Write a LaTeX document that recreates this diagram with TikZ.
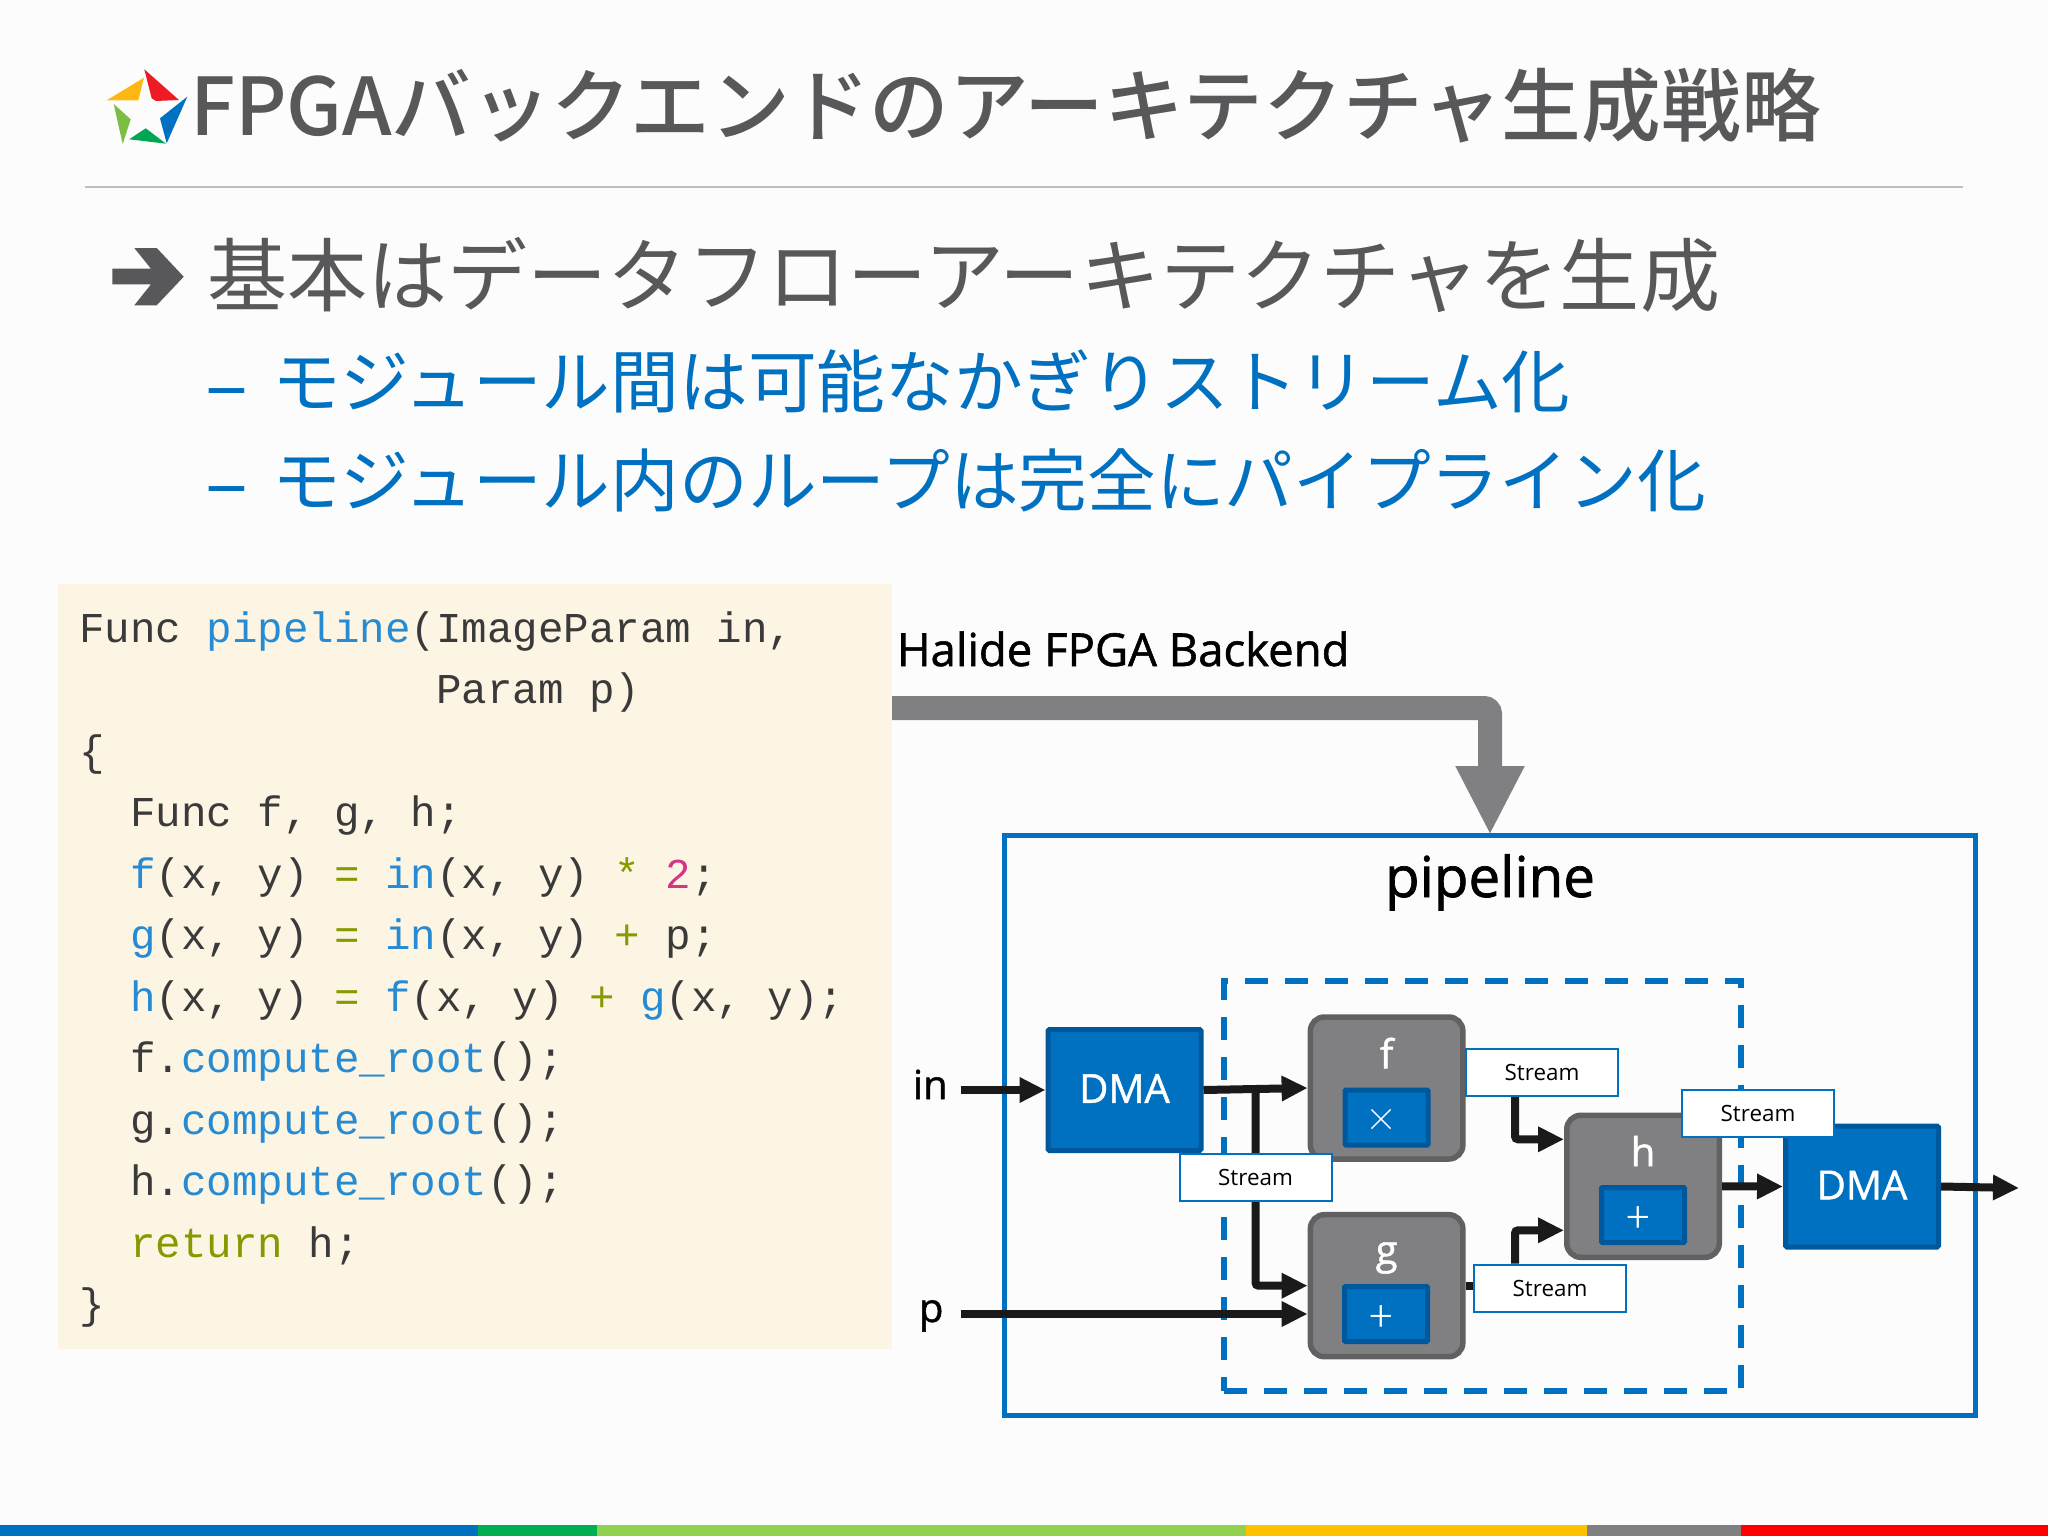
\documentclass[tikz,border=0pt]{standalone}
\usepackage{fontspec}
\usetikzlibrary{arrows.meta}
\setmainfont{Open Sans}
\newfontfamily\labfont[FakeBold=1.2]{Open Sans}
\newfontfamily\cjk{Noto Sans CJK JP}
\newfontfamily\cjkmed{Noto Sans CJK JP Medium}
\newfontfamily\cjklight{Noto Sans CJK JP Light}
\newfontfamily\codefont{Liberation Mono}
\definecolor{slideblue}{HTML}{0070C0}
\definecolor{slidedark}{HTML}{00589C}
\definecolor{slidetext}{HTML}{58585A}
\definecolor{boxgrey}{HTML}{808083}
\definecolor{boxedge}{HTML}{616164}
\definecolor{arrowblack}{HTML}{1A1A1A}
\definecolor{codebg}{HTML}{FDF5E4}
\definecolor{codetext}{HTML}{3A3A3A}
\definecolor{codeblue}{HTML}{268BD2}
\definecolor{codegreen}{HTML}{859900}
\definecolor{codemag}{HTML}{D33682}
\definecolor{barA}{HTML}{00B050}
\definecolor{barB}{HTML}{92D050}
\definecolor{barC}{HTML}{FFC000}
\definecolor{barD}{HTML}{808080}
\definecolor{barE}{HTML}{FF0000}
\definecolor{logoR}{HTML}{ED1C24}
\definecolor{logoY}{HTML}{FFB812}
\definecolor{logoL}{HTML}{7CBE42}
\definecolor{logoG}{HTML}{00A651}
\newcommand\cfn[1]{\textcolor{codeblue}{#1}}
\newcommand\ckw[1]{\textcolor{codegreen}{#1}}
\newcommand\cnum[1]{\textcolor{codemag}{#1}}
\pgfdeclarelayer{top}
\pgfsetlayers{main,top}
\tikzset{
  x=1bp,y=-1bp,
  txt/.style={inner sep=0pt,outer sep=0pt,anchor=base west},
  headline/.style={txt,text=slidetext,font=\cjkmed\fontsize{79.7bp}{90bp}\selectfont},
  title/.style={txt,text=slidetext,font=\cjk\fontsize{80.1bp}{90bp}\selectfont},
  sub/.style={txt,text=slideblue,font=\cjk\fontsize{68.7bp}{80bp}\selectfont},
  subdash/.style={txt,text=slideblue,font=\cjk\fontsize{80bp}{80bp}\selectfont},
  code/.style={txt,text=codetext,font=\codefont\fontsize{42.5bp}{50bp}\selectfont},
  lab/.style={inner sep=0pt,outer sep=0pt,text=black,font=\labfont\fontsize{#1bp}{#1bp}\selectfont},
  lab/.default=40,
  white lab/.style={text=white,font=\labfont\fontsize{40bp}{44bp}\selectfont},
  op/.style={inner sep=0pt,outer sep=0pt,text=white,font=\cjklight\fontsize{#1bp}{#1bp}\selectfont},
  op/.default=44,
  dma/.style={draw=slidedark,fill=slideblue,line width=5bp,rounded corners=1.5bp,minimum width=153bp,minimum height=121bp,inner sep=0pt},
  func/.style={draw=boxedge,fill=boxgrey,line width=5.5bp,rounded corners=14bp,minimum width=152.5bp,minimum height=142bp,inner sep=0pt},
  unit/.style={draw=slidedark,fill=slideblue,line width=5bp,rounded corners=1bp,minimum width=83bp,minimum height=55bp,inner sep=0pt},
  stream/.style={draw=slideblue,fill=white,line width=2bp,minimum width=152bp,minimum height=47bp,inner sep=0pt,text=black,font=\fontsize{22.4bp}{26bp}\selectfont},
  conn/.style={draw=arrowblack,line width=8bp,rounded corners=3bp,-{Triangle[length=26bp,width=24bp]}},
  stub/.style={draw=arrowblack,line width=8bp},
  feed/.style={draw=boxgrey,line width=24bp,rounded corners=6bp,-{Triangle[length=69bp,width=64bp]}},
}
\begin{document}
\begin{tikzpicture}
\fill[white!99!black] (0,0) rectangle (2048,1536);
\useasboundingbox (0,0) rectangle (2048,1536);
% bottom bar
\fill[slideblue] (0,1525) rectangle (478,1536);
\fill[barA] (478,1525) rectangle (597,1536);
\fill[barB] (597,1525) rectangle (1246,1536);
\fill[barC] (1246,1525) rectangle (1587,1536);
\fill[barD] (1587,1525) rectangle (1741,1536);
\fill[barE] (1741,1525) rectangle (2048,1536);
% logo
\fill[logoR] (144.3,69.3) -- (179,100) -- (156,101) -- (151.7,98.3) -- cycle;
\fill[logoY] (106.7,100.3) -- (144,77.7) -- (138.3,100.3) -- cycle;
\fill[logoL] (113.7,104) -- (130.7,119.3) -- (122.7,144) -- cycle;
\fill[logoG] (129.3,139.3) -- (145.7,128.3) -- (166,143.7) -- cycle;
\fill[slideblue] (187.3,96.7) -- (166.7,143.3) -- (160,118.3) -- cycle;
% title
\node[headline] (titletext) at (190,136) {FPGAバックエンドのアーキテクチャ生成戦略};
\draw[draw=black!25,line width=2bp] (85,187) -- (1963,187);
% bullet arrow
\fill[slidetext] (112.3,268.7) -- (151,268.7) -- (134.3,248) -- (156.7,248) -- (183.7,276.7) -- (156.7,305.3) -- (134.3,305.3) -- (151,284.3) -- (112.3,284.3) -- cycle;
\node[title] (body) at (207,305.5) {基本はデータフローアーキテクチャを生成};
\node[subdash] (dashone) at (205,413) {–};
\node[sub] (subone) at (272,407.5) {モジュール間は可能なかぎりストリーム化};
\node[subdash] (dashtwo) at (205,511) {–};
\node[sub] (subtwo) at (272,506.5) {モジュール内のループは完全にパイプライン化};
% code
\node[fill=codebg,inner sep=0pt,outer sep=0pt,minimum width=834bp,minimum height=765bp] (codebox) at (475,966.5) {};
\node[code] (c1) at (79,642) {Func \cfn{pipeline}(ImageParam in,};
\node[code] (c2) at (79,703.5) {\hspace*{357.1bp}Param p)};
\node[code] (c3) at (79,765) {\{};
\node[code] (c4) at (79,826.5) {\hspace*{51bp}Func f, g, h;};
\node[code] (c5) at (79,888) {\hspace*{51bp}\cfn{f}(x, y) \ckw{=} \cfn{in}(x, y) \ckw{*} \cnum{2};};
\node[code] (c6) at (79,949.5) {\hspace*{51bp}\cfn{g}(x, y) \ckw{=} \cfn{in}(x, y) \ckw{+} p;};
\node[code] (c7) at (79,1011) {\hspace*{51bp}\cfn{h}(x, y) \ckw{=} \cfn{f}(x, y) \ckw{+} \cfn{g}(x, y);};
\node[code] (c8) at (79,1072.5) {\hspace*{51bp}f.\cfn{compute\_root}();};
\node[code] (c9) at (79,1134) {\hspace*{51bp}g.\cfn{compute\_root}();};
\node[code] (c10) at (79,1195.5) {\hspace*{51bp}h.\cfn{compute\_root}();};
\node[code] (c11) at (79,1257) {\hspace*{51bp}\ckw{return} h;};
\node[code] (c12) at (79,1318.5) {\}};
% pipeline frame
\node[draw=slideblue,line width=5bp,inner sep=0pt,outer sep=0pt,minimum width=971bp,minimum height=580bp] (frame) at (1490,1125) {};
\node[draw=slideblue,line width=6bp,dash pattern=on 23bp off 17bp,inner sep=0pt,outer sep=0pt,minimum width=517bp,minimum height=410bp] (region) at (1482.5,1186) {};
\node[lab=45.5,anchor=base west] (halide) at (897,666) {Halide FPGA Backend};
\node[lab=56.4,anchor=base] (pipetitle) at (1490,897) {pipeline};
\node[lab=40,anchor=base west] (inlab) at (913,1099) {in};
\node[lab=40,anchor=base west] (plab) at (919,1322) {p};
\coordinate (ins) at (960.5,1090);
\coordinate (pin) at (960.5,1314);
\coordinate (out) at (2019,1188);
\coordinate (junction) at (1255.5,1089.5);
% grey feed arrow
\draw[feed] (codebox.east |- 0,708) -| (frame.north);
% blocks
\node[dma] (dmaa) at (1124.5,1090) {};
\node[dma] (dmab) at (1862,1186.5) {};
\node[inner sep=0pt,outer sep=0pt,white lab] (dmaatext) at (1124.5,1088.5) {DMA};
\node[inner sep=0pt,outer sep=0pt,white lab] (dmabtext) at (1862,1185) {DMA};
\node[func] (f) at (1386.6,1088) {};
\node[func] (g) at (1386.6,1285.7) {};
\node[func] (h) at (1643,1186.3) {};
\node[unit] (fu) at (1386.5,1117.5) {};
\node[unit] (gu) at (1386,1314) {};
\node[unit] (hu) at (1643,1215) {};
\node[op=32] (fop) at (1381,1120) {×};
\node[op] (gop) at (1381,1319) {+};
\node[op] (hop) at (1638,1220) {+};
\node[inner sep=0pt,outer sep=0pt,white lab] (fname) at (1386.6,1053) {f};
\node[inner sep=0pt,outer sep=0pt,white lab] (gname) at (1386.6,1258) {g};
\node[inner sep=0pt,outer sep=0pt,white lab] (hname) at (1643,1151) {h};
\begin{pgfonlayer}{top}
\node[stream] (sa) at (1255.5,1177.5) {Stream};
\node[stream] (sb) at (1542,1072) {Stream};
\node[stream] (sc) at (1550,1288) {Stream};
\node[stream] (sd) at (1758,1113.5) {Stream};
\end{pgfonlayer}
% connectors
\draw[conn] (ins) -- (dmaa.west);
\draw[conn] (pin) -- (g.west |- pin);
\draw[conn] (dmaa.east) -- (f.west);
\draw[conn] (junction) |- (g.west);
\draw[conn] (sb.south -| 1515,0) |- ([yshift=47bp]h.west);
\draw[conn] (sc.north -| 1515,0) |- ([yshift=-44bp]h.west);
\draw[stub] (g.east) -- (sc.west |- g.east);
\draw[conn] (h.east) -- (dmab.west);
\draw[conn] (dmab.east) -- (out);
\end{tikzpicture}
\end{document}
